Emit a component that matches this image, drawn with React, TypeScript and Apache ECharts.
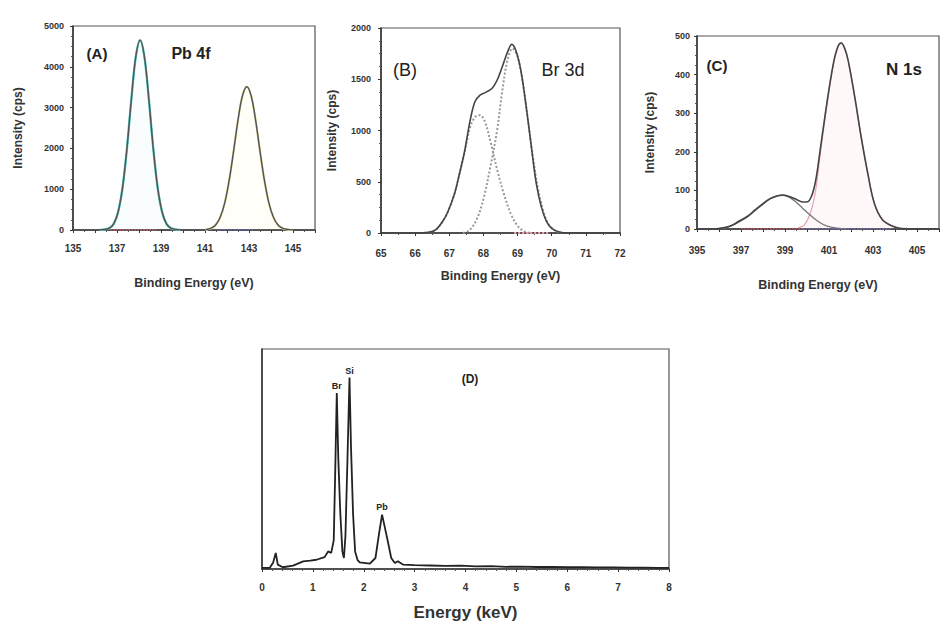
import React, { useEffect, useRef } from "react";
import * as echarts from "echarts";

// ---------- Panel A: Pb 4f ----------
const pbEnvelope: [number, number][] = [
  [135, 0], [136, 0], [136.4, 10], [136.65, 45], [136.85, 150], [137.05, 440], [137.25, 1030],
  [137.45, 1990], [137.65, 3190], [137.85, 4230], [138.05, 4650], [138.25, 4230], [138.45, 3190],
  [138.65, 1990], [138.85, 1030], [139.05, 440], [139.25, 150], [139.45, 45], [139.7, 10], [140, 0],
  [141, 0], [141.1, 17], [141.3, 50], [141.5, 135], [141.7, 325], [141.9, 670], [142.1, 1220],
  [142.3, 1935], [142.5, 2695], [142.7, 3285], [142.9, 3510], [143.1, 3285], [143.3, 2695],
  [143.5, 1935], [143.7, 1220], [143.9, 670], [144.1, 325], [144.3, 135], [144.5, 50], [144.7, 17],
  [145, 0], [146, 0],
];
const pb72Component: [number, number][] = [
  [136.2, 0], [136.4, 10], [136.65, 45], [136.85, 150], [137.05, 440], [137.25, 1030],
  [137.45, 1990], [137.65, 3190], [137.85, 4230], [138.05, 4650], [138.25, 4230], [138.45, 3190],
  [138.65, 1990], [138.85, 1030], [139.05, 440], [139.25, 150], [139.45, 45], [139.7, 10], [139.9, 0],
];
const pb52Component: [number, number][] = [
  [141, 0], [141.1, 17], [141.3, 50], [141.5, 135], [141.7, 325], [141.9, 670], [142.1, 1220],
  [142.3, 1935], [142.5, 2695], [142.7, 3285], [142.9, 3510], [143.1, 3285], [143.3, 2695],
  [143.5, 1935], [143.7, 1220], [143.9, 670], [144.1, 325], [144.3, 135], [144.5, 50], [144.7, 17], [145, 0],
];
const pbBaseRed: [number, number][] = [[136.7, 0], [138.8, 0]];
const pbBaseBlue: [number, number][] = [[141.6, 0], [143.2, 0]];

// ---------- Panel B: Br 3d ----------
const brEnvelope: [number, number][] = [
  [65, 0], [66, 0], [66.4, 8], [66.6, 30], [66.8, 110], [66.95, 200], [67.15, 380], [67.3, 580],
  [67.45, 800], [67.6, 1080], [67.75, 1280], [67.9, 1345], [68.05, 1370], [68.25, 1410], [68.4, 1490],
  [68.55, 1620], [68.7, 1760], [68.83, 1840], [68.95, 1780], [69.1, 1580], [69.25, 1240], [69.4, 850],
  [69.55, 480], [69.7, 250], [69.85, 110], [70.0, 45], [70.2, 12], [70.5, 0], [72, 0],
];
const br52Component: [number, number][] = [
  [66.4, 8], [66.6, 30], [66.8, 110], [66.95, 200], [67.15, 380], [67.3, 580], [67.45, 790],
  [67.6, 1020], [67.75, 1130], [67.9, 1150], [68.05, 1080], [68.2, 900], [68.4, 620], [68.6, 380],
  [68.8, 190], [69.0, 70], [69.2, 15], [69.4, 0],
];
const br32Component: [number, number][] = [
  [67.4, 0], [67.6, 30], [67.8, 130], [68.0, 330], [68.2, 640], [68.4, 1000], [68.55, 1380],
  [68.7, 1680], [68.85, 1800], [69.0, 1720], [69.15, 1470], [69.3, 1110], [69.45, 740], [69.6, 430],
  [69.75, 220], [69.9, 90], [70.1, 25], [70.3, 0],
];
const brBasePink: [number, number][] = [[68.9, 0], [69.9, 0]];

// ---------- Panel C: N 1s ----------
const nEnvelope: [number, number][] = [
  [395, 0], [395.8, 0], [396.2, 3], [396.6, 10], [396.9, 20], [397.3, 33], [397.65, 50], [398.0, 66],
  [398.3, 78], [398.6, 85], [398.9, 88], [399.2, 84], [399.5, 77], [399.8, 70], [400.0, 70],
  [400.2, 84], [400.4, 127], [400.6, 205], [400.9, 325], [401.2, 429], [401.4, 472], [401.55, 482],
  [401.7, 470], [401.87, 437], [402.17, 342], [402.46, 239], [402.76, 145], [403.06, 67],
  [403.43, 24], [403.9, 7], [404.3, 1], [406, 0],
];
const nLowComponent: [number, number][] = [
  [396.0, 1], [396.4, 5], [396.9, 18], [397.3, 32], [397.65, 48], [398.0, 64], [398.3, 77],
  [398.6, 85], [398.9, 87], [399.2, 82], [399.5, 70], [399.8, 54], [400.1, 38], [400.4, 24],
  [400.7, 13], [401.0, 6], [401.4, 2], [401.8, 0],
];
const nMainComponent: [number, number][] = [
  [399.6, 3], [399.9, 12], [400.2, 50], [400.4, 103], [400.6, 193], [400.9, 318], [401.2, 426],
  [401.4, 470], [401.55, 482], [401.7, 470], [401.87, 437], [402.17, 342], [402.46, 239],
  [402.76, 145], [403.06, 67], [403.43, 24], [403.9, 7], [404.3, 0],
];
const nBaseRed: [number, number][] = [[397.0, 0], [399.8, 0]];
const nBaseBlue: [number, number][] = [[399.8, 0], [403.8, 0]];

// ---------- Panel D: EDX ----------
const edxSpectrum: [number, number][] = [
  [0, 0.5], [0.15, 0.5], [0.22, 3], [0.27, 7.3], [0.31, 2], [0.41, 0.8], [0.61, 1.5], [0.81, 3.5],
  [0.95, 3.8], [1.07, 4.2], [1.23, 5.4], [1.3, 8], [1.36, 7.3], [1.41, 13], [1.44, 45], [1.47, 80],
  [1.5, 50], [1.54, 25], [1.58, 8], [1.61, 5], [1.64, 15], [1.68, 50], [1.72, 87], [1.75, 55],
  [1.79, 25], [1.83, 8], [1.88, 4], [1.92, 3], [2.12, 2.4], [2.23, 5], [2.3, 16], [2.36, 24.7],
  [2.41, 19.4], [2.48, 11.8], [2.54, 5], [2.61, 2.7], [2.67, 3.5], [2.77, 2], [3.0, 1.8], [3.3, 1.6],
  [3.6, 1.4], [3.9, 1.5], [4.2, 1.2], [4.5, 1.3], [4.8, 1.0], [5.1, 1.1], [5.4, 0.9], [5.7, 1.0],
  [6.0, 0.8], [6.3, 0.8], [6.6, 0.7], [6.9, 0.7], [7.2, 0.6], [7.5, 0.6], [7.8, 0.5], [8.0, 0.5],
];
const edxPeaks = [
  { name: "Br", x: 1.47, y: 80 },
  { name: "Si", x: 1.72, y: 86.7 },
  { name: "Pb", x: 2.36, y: 24.7 },
];

const FONT = 'Arial, "Liberation Sans", Helvetica, sans-serif';
const TXT = "#333";

function grid(left: number, top: number, width: number, height: number) {
  return { left, top, width, height, show: true, borderColor: "#555", borderWidth: 1.2, containLabel: false };
}

function xAxis(idx: number, min: number, max: number, name: string, nameGap: number, margin: number, oddOnly: boolean, nameSize = 12.5, minorSplit = 2) {
  return {
    gridIndex: idx, type: "value", min, max, interval: 1,
    axisLine: { show: true, onZero: false, lineStyle: { color: "#333", width: 1.5 } },
    axisTick: { show: true, length: 3, lineStyle: { color: "#333" } },
    minorTick: { show: true, splitNumber: minorSplit, length: 2, lineStyle: { color: "#555" } },
    splitLine: { show: false },
    axisLabel: {
      fontSize: 10, fontWeight: "bold", color: TXT, fontFamily: FONT, margin,
      formatter: (v: number) => (oddOnly ? (Math.abs(v % 2) === 1 ? String(v) : "") : String(v)),
    },
    name, nameLocation: "middle", nameGap,
    nameTextStyle: { fontSize: nameSize, fontWeight: "bold", color: TXT, fontFamily: FONT },
  };
}

function yAxis(idx: number, max: number, interval: number, nameGap: number, margin: number, showLabels = true) {
  return {
    gridIndex: idx, type: "value", min: 0, max, interval,
    axisLine: { show: true, onZero: false, lineStyle: { color: "#333", width: 1.5 } },
    axisTick: { show: showLabels, length: 3, lineStyle: { color: "#333" } },
    minorTick: { show: showLabels, splitNumber: 4, length: 2, lineStyle: { color: "#555" } },
    splitLine: { show: false },
    axisLabel: { show: showLabels, fontSize: 9, fontWeight: "bold", color: TXT, fontFamily: FONT, margin, formatter: (v: number) => String(v) },
    name: showLabels ? "Intensity (cps)" : "", nameLocation: "middle", nameRotate: 90, nameGap,
    nameTextStyle: { fontSize: 12, fontWeight: "bold", color: TXT, fontFamily: FONT },
  };
}

function line(idx: number, data: [number, number][], color: string, width: number, opts: any = {}) {
  return {
    type: "line", xAxisIndex: idx, yAxisIndex: idx, data, showSymbol: false, symbol: "none",
    smooth: opts.smooth ?? 0.35, z: opts.z ?? 2,
    lineStyle: { color, width, type: opts.type ?? "solid" },
    areaStyle: opts.area ? { color: opts.area } : undefined,
    silent: true,
    markPoint: opts.markPoint,
  };
}

function titleText(x: number, y: number, text: string, size: number, weight = "bold") {
  return {
    type: "text", x, y,
    style: { text, fontSize: size, fontWeight: weight, fill: "#222", fontFamily: FONT, textAlign: "center", textVerticalAlign: "middle" },
  };
}

export default function App() {
  const ref = useRef<HTMLDivElement>(null);
  useEffect(() => {
    if (!ref.current) return;
    const chart = echarts.init(ref.current, undefined, { renderer: "svg" });
    chart.setOption({
      animation: false,
      backgroundColor: "#fff",
      grid: [grid(73, 26, 242, 204), grid(381, 28, 239, 205), grid(697, 36, 243, 193), grid(262, 349, 407, 220)],
      xAxis: [
        xAxis(0, 135, 146, "Binding Energy (eV)", 46, 13, true),
        xAxis(1, 65, 72, "Binding Energy (eV)", 36, 15, false),
        xAxis(2, 395, 406, "Binding Energy (eV)", 49, 16, true),
        xAxis(3, 0, 8, "Energy (keV)", 35, 13, false, 17, 5),
      ],
      yAxis: [
        yAxis(0, 5000, 1000, 49, 9),
        yAxis(1, 2000, 500, 43, 10),
        yAxis(2, 500, 100, 41, 7),
        yAxis(3, 100, 20, 10, 5, false),
      ],
      series: [
        line(0, pb72Component, "#5fd0cc", 2.4, { z: 1, area: "rgba(120,220,220,0.06)" }),
        line(0, pb52Component, "#efe6b0", 2.4, { z: 1, area: "rgba(250,240,180,0.12)" }),
        line(0, pbBaseRed, "#e06070", 1.5, { type: "dotted", smooth: false, z: 3 }),
        line(0, pbBaseBlue, "#6060c0", 1.5, { type: "dotted", smooth: false, z: 3 }),
        line(0, pbEnvelope, "#555", 1.5, { z: 4 }),

        line(1, br52Component, "#999", 2, { type: "dotted", z: 2 }),
        line(1, br32Component, "#999", 2, { type: "dotted", z: 2 }),
        line(1, brBasePink, "#f0a0b0", 2, { type: "dotted", smooth: false, z: 3 }),
        line(1, brEnvelope, "#444", 1.6, { z: 4 }),

        line(2, nMainComponent, "#e8a0b0", 1.2, { z: 1, area: "rgba(245,190,200,0.15)" }),
        line(2, nLowComponent, "#777", 1.3, { z: 2 }),
        line(2, nBaseRed, "#d05060", 1.6, { type: "dotted", smooth: false, z: 3 }),
        line(2, nBaseBlue, "#7070c8", 1.6, { type: "dotted", smooth: false, z: 3 }),
        line(2, nEnvelope, "#444", 1.6, { z: 4 }),

        line(3, edxSpectrum, "#222", 1.8, {
          smooth: false, z: 4,
          markPoint: {
            symbol: "circle", symbolSize: 0, silent: true,
            data: edxPeaks.map((p) => ({ name: p.name, coord: [p.x, p.y] })),
            label: { show: true, position: "top", distance: 3, formatter: "{b}", fontSize: 9, fontWeight: "bold", color: "#222", fontFamily: FONT },
          },
        }),
      ],
      graphic: [
        titleText(97, 53, "(A)", 15),
        titleText(191, 53, "Pb 4f", 16),
        titleText(405, 70, "(B)", 18, "normal"),
        titleText(563, 70, "Br 3d", 18, "normal"),
        titleText(717, 65, "(C)", 15),
        titleText(904, 69, "N 1s", 17),
        titleText(470, 379, "(D)", 12),
      ],
    });
    return () => chart.dispose();
  }, []);
  return <div ref={ref} style={{ position: "fixed", left: 0, top: 0, width: 942, height: 624, background: "#fff" }} />;
}
